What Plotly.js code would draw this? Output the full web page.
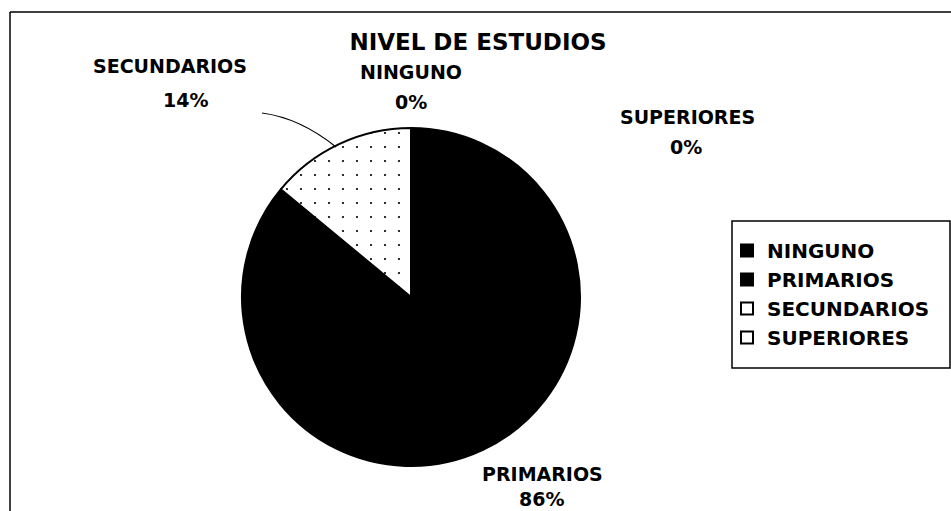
<!DOCTYPE html>
<html>
<head>
<meta charset="utf-8">
<script src="https://cdn.plot.ly/plotly-3.0.1.min.js"></script>
<style>html,body{margin:0;padding:0;background:#fff;}#chart{width:951px;height:511px;}</style>
</head>
<body>
<div id="chart"></div>
<script>
const categories = ["NINGUNO", "PRIMARIOS", "SECUNDARIOS", "SUPERIORES"];
const values = [0, 86, 14, 0];
const sliceColors = ["#000000", "#000000", "#ffffff", "#ffffff"];
const chartTitle = "NIVEL DE ESTUDIOS";

const W = 951, H = 511;
const px = x => x / W;
const py = y => 1 - y / H;
const FONT = "DejaVu Sans, Liberation Sans, Arial, sans-serif";

const total = values.reduce((a, b) => a + b, 0);
const pct = values.map(v => Math.round(v / total * 100) + "%");

// label positions (pixel centres): [nameX, nameY, pctX, pctY]
const labelPos = [[411, 72, 411, 102], [542, 474, 541, 499], [170, 66, 185, 100], [687, 117, 686, 147]];
const annotations = [];
categories.forEach((c, i) => {
  const p = labelPos[i];
  annotations.push({xref: "paper", yref: "paper", x: px(p[0]), y: py(p[1]), xanchor: "center", yanchor: "middle",
    text: "<b>" + c + "</b>", showarrow: false, font: {family: FONT, size: 19, color: "#000"}});
  annotations.push({xref: "paper", yref: "paper", x: px(p[2]), y: py(p[3]), xanchor: "center", yanchor: "middle",
    text: "<b>" + pct[i] + "</b>", showarrow: false, font: {family: FONT, size: 19, color: "#000"}});
});

const data = [{
  type: "pie",
  labels: categories,
  values: values,
  sort: false,
  direction: "clockwise",
  rotation: 0,
  textinfo: "none",
  hoverinfo: "label+percent",
  marker: {
    colors: sliceColors,
    line: {color: "#000", width: 2},
    pattern: {shape: ["", "", ".", ""], fgcolor: "#000", bgcolor: "#fff", size: 14, solidity: 0.02}
  },
  domain: {x: [px(242), px(580)], y: [py(466), py(128)]}
}];

const layout = {
  width: W, height: H,
  margin: {l: 0, r: 0, t: 0, b: 0},
  paper_bgcolor: "#fff",
  plot_bgcolor: "#fff",
  title: {
    text: "<b>" + chartTitle + "</b>",
    x: px(478), xanchor: "center",
    y: py(42), yanchor: "middle", yref: "container", xref: "container",
    font: {family: FONT, size: 23, color: "#000"}
  },
  showlegend: true,
  legend: {
    x: px(727), y: py(294), xanchor: "left", yanchor: "middle",
    borderwidth: 0, bgcolor: "rgba(0,0,0,0)",
    font: {family: FONT, size: 20, color: "#000", weight: 700},
    itemwidth: 30
  },
  annotations: annotations,
  shapes: [
    {type: "line", xref: "paper", yref: "paper", x0: px(10), x1: px(951), y0: py(12), y1: py(12),
     line: {color: "#000", width: 1.5}},
    {type: "line", xref: "paper", yref: "paper", x0: px(10), x1: px(10), y0: py(12), y1: py(511),
     line: {color: "#000", width: 1.5}},
    {type: "rect", xref: "paper", yref: "paper", x0: px(732), x1: px(950), y0: py(368), y1: py(221),
     line: {color: "#000", width: 1.5}, fillcolor: "rgba(0,0,0,0)"},
    {type: "path", xref: "paper", yref: "paper",
     path: "M " + px(262) + "," + py(113) + " Q " + px(300) + "," + py(118) + " " + px(336) + "," + py(147),
     line: {color: "#000", width: 1.2}}
  ]
};

Plotly.newPlot("chart", data, layout, {displayModeBar: false, staticPlot: true});
</script>
</body>
</html>
